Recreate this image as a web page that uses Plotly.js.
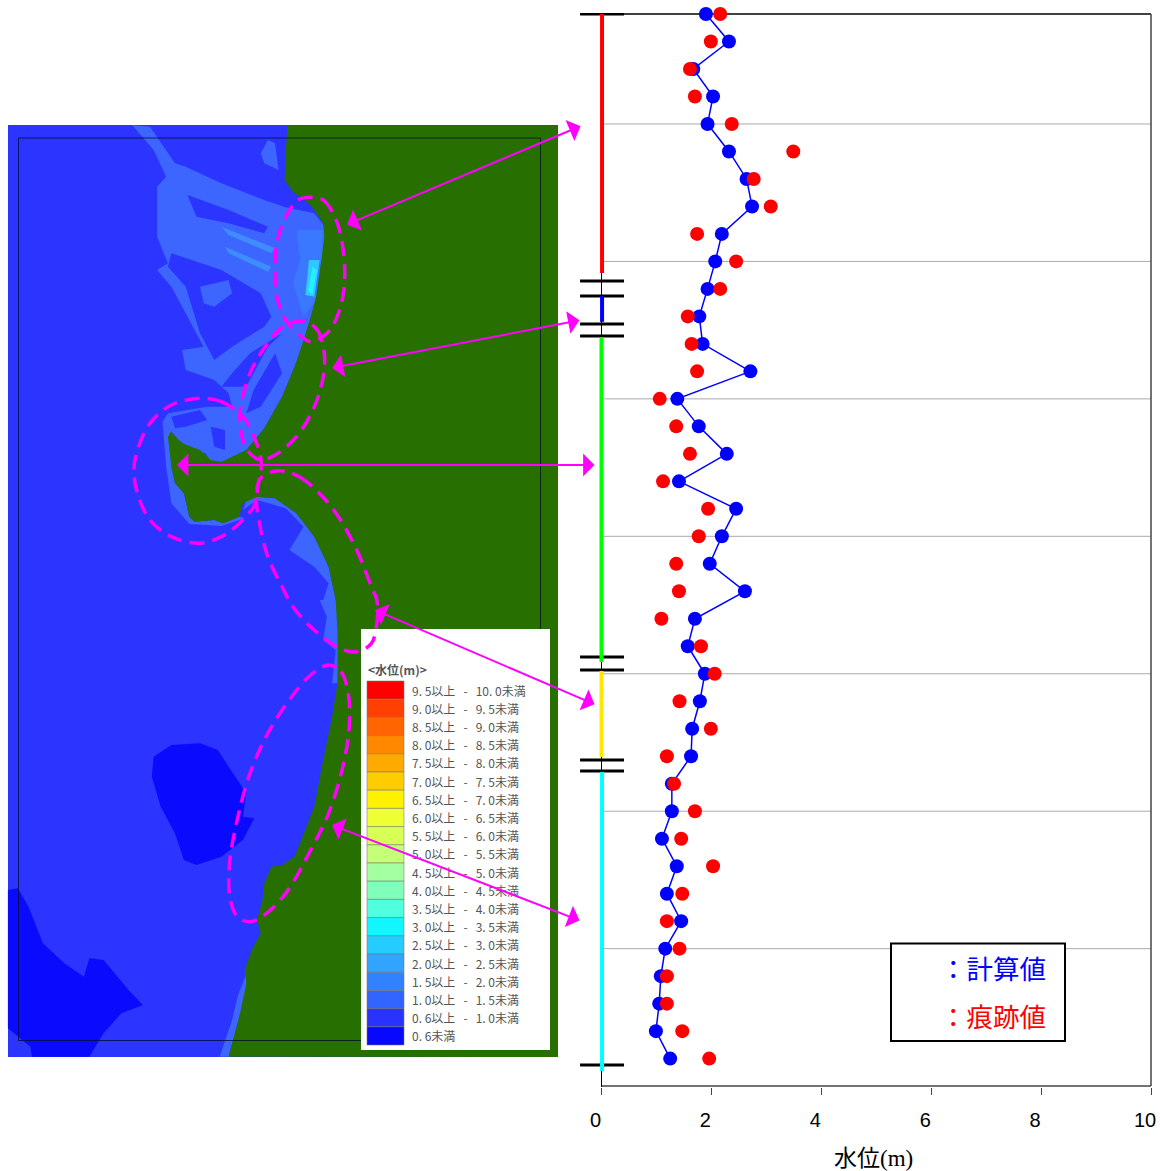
<!DOCTYPE html>
<html><head><meta charset="utf-8">
<script src="https://cdn.plot.ly/plotly-3.0.1.min.js"></script>
<style>html,body{margin:0;padding:0;background:#fff}#c{width:1160px;height:1171px}</style>
</head><body><div id="c"></div>
<script>
// ---- chart data ----
const calcValues = [1.90,2.32,1.67,2.03,1.93,2.32,2.64,2.74,2.19,2.07,1.93,1.78,1.84,2.71,1.38,1.77,2.28,1.41,2.45,2.19,1.97,2.61,1.70,1.57,1.88,1.79,1.65,1.63,1.28,1.28,1.10,1.37,1.19,1.45,1.16,1.08,1.05,0.99,1.25];
const traceValues = [2.16,1.99,1.61,1.70,2.37,3.49,2.77,3.08,1.74,2.45,2.16,1.57,1.64,1.74,1.06,1.36,1.61,1.12,1.94,1.77,1.36,1.41,1.09,1.81,2.06,1.42,1.99,1.19,1.32,1.70,1.45,2.03,1.47,1.19,1.42,1.19,1.19,1.47,1.96];
const sectionColors = ['#ff0000','#0000ff','#00ff00','#ffe600','#00ffff'];
const sectionStart = [0,10.26,11.75,23.9,27.57];
const sectionEnd = [9.42,11.2,23.57,27.03,38.45];
const sectionX = [0.01,0.01,0,0,0.01];
const breakPositions = [0,9.71,10.26,11.28,11.71,23.39,23.86,27.14,27.54,38.23];
const gridPositions = [4,9,14,19,24,29,34];
const xTicks = [0,2,4,6,8,10];
const legendLabels = ['9. 5以上 - 10. 0未満','9. 0以上 - 9. 5未満','8. 5以上 - 9. 0未満','8. 0以上 - 8. 5未満','7. 5以上 - 8. 0未満','7. 0以上 - 7. 5未満','6. 5以上 - 7. 0未満','6. 0以上 - 6. 5未満','5. 5以上 - 6. 0未満','5. 0以上 - 5. 5未満','4. 5以上 - 5. 0未満','4. 0以上 - 4. 5未満','3. 5以上 - 4. 0未満','3. 0以上 - 3. 5未満','2. 5以上 - 3. 0未満','2. 0以上 - 2. 5未満','1. 5以上 - 2. 0未満','1. 0以上 - 1. 5未満','0. 6以上 - 1. 0未満','0. 6未満'];
const legendColors = ['#ff0000','#ff4000','#ff6600','#ff8800','#ffaa00','#ffcc00','#fff200','#eeff33','#d8ff55','#c4ff77','#a4ffa0','#80ffbb','#50ffdd','#12f6ff','#25ccff','#30a4ff','#3082ff','#3264ff','#2a32ff','#0808ff'];

// ---- map geometry helpers (page pixel space) ----
const z1 = a => a.map(p => [p[0]/2.8, 120+p[1]/3]);
const z2 = a => a.map(p => [p[0]/2.8, 600+p[1]/3]);
const poly = (pts, fill, lw, lc) => ({type:'path', xref:'x2', yref:'y2', layer:'below',
  path:'M'+pts.map(p=>p[0].toFixed(1)+','+p[1].toFixed(1)).join('L')+'Z',
  fillcolor:fill, line:{width:lw||0, color:lc||fill}});
const rect = (x0,y0,x1,y1,fill,line,layer) => ({type:'rect', xref:'x2', yref:'y2', layer:layer||'below',
  x0,y0,x1,y1, fillcolor:fill, line:line||{width:0}});

const SEA='#2b35ff', L1='#3c66ff', L2='#3f8cff', DEEP='#0a0aff', LAND='#277000';
const coast = z1([[805,15],[800,100],[797,180],[820,215],[870,255],[905,310],[908,350],[900,420],[885,530],[870,590],[850,660],[825,740],[790,830],[740,925],[690,990],[620,1025],[590,1020],[560,990],[510,970],[478,935],[470,950],[480,1040],[490,1090],[515,1120],[530,1190],[545,1205],[600,1200],[625,1210],[670,1190],[680,1150],[720,1130],[770,1135],[830,1180],[880,1250],[920,1340],[940,1440]])
 .concat(z2([[945,100],[945,250],[930,350],[905,480],[880,620],[825,770],[790,795],[760,800],[740,850],[735,900],[720,960],[730,1000],[705,1050],[685,1110],[690,1150],[670,1250],[640,1370]]));
const mapShapes = [
  rect(8,125,558,1057,SEA),
  poly(z1([[370,15],[420,20],[490,130],[520,140],[620,190],[740,240],[800,262],[880,280],[910,320],[910,420],[885,550],[860,640],[825,740],[790,830],[740,925],[690,990],[620,1030],[590,1025],[575,1000],[540,990],[500,960],[480,935],[455,905],[470,880],[580,860],[650,860],[640,820],[600,780],[520,750],[510,690],[570,680],[540,620],[480,500],[440,450],[470,430],[440,350],[440,200],[465,170],[430,90]]),L1),
  poly(z1([[525,225],[640,270],[750,320],[740,340],[640,310],[550,290]]),SEA),
  poly(z1([[480,400],[620,450],[730,520],[760,590],[740,620],[650,680],[600,720],[560,640],[520,500],[470,440]]),SEA),
  poly(z1([[560,500],[640,480],[650,520],[600,560],[570,550]]),L1),
  poly(z1([[790,640],[750,680],[690,800],[620,800],[650,760],[700,700]]),SEA),
  poly(z1([[770,700],[790,760],[730,860],[690,880],[710,810]]),SEA),
  poly(z1([[480,890],[560,870],[580,900],[520,920],[490,925]]),SEA),
  poly(z1([[590,920],[630,930],[630,990],[600,980]]),SEA),
  poly(z1([[800,180],[840,250],[800,262],[760,240],[790,200]]),SEA),
  poly(z1([[750,60],[770,70],[780,150],[740,130],[730,100]]),L1),
  poly(z1([[620,320],[770,385],[760,400],[640,345]]),L2),
  poly(z1([[630,380],[760,440],[750,455],[640,400]]),L2),
  poly(z1([[830,330],[905,330],[900,420],[885,540],[850,590],[820,490],[840,420]]),'#3a78ff'),
  poly(z1([[865,420],[895,420],[880,530],[855,525]]),'#30c8ff'),
  poly(z1([[875,440],[888,450],[875,525],[862,510]]),'#22f0ff'),
  poly(z1([[455,905],[480,935],[480,1040],[490,1090],[515,1120],[530,1190],[545,1205],[600,1200],[625,1210],[670,1190],[685,1195],[620,1218],[530,1212],[480,1150],[465,1040]]),L1),
  poly(z1([[680,1170],[690,1140],[720,1130],[770,1135],[830,1180],[880,1250],[920,1340],[940,1440],[905,1440],[920,1390],[880,1340],[810,1290],[850,1220],[800,1165],[720,1140]]),L1),
  poly(z2([[895,0],[945,0],[950,150],[945,250],[930,250],[940,150],[905,120],[915,50]]),L1),
  poly(z2([[690,1120],[700,1150],[670,1250],[640,1370],[615,1370],[650,1260],[665,1190]]),L1),
  poly(z2([[430,470],[480,435],[560,430],[610,450],[640,500],[690,580],[680,650],[712,655],[680,720],[620,770],[550,795],[515,780],[490,700],[450,620],[425,530]]),DEEP),
  poly(z2([[22,870],[50,865],[80,920],[120,1030],[180,1090],[235,1130],[250,1075],[290,1080],[360,1170],[400,1215],[340,1240],[290,1300],[250,1370],[90,1370],[85,1340],[22,1285]]),DEEP),
  poly(coast.concat([[558,1057],[558,125]]),LAND),
  rect(18.5,138,540.5,1040.5,'rgba(0,0,0,0)',{width:1,color:'rgba(0,10,40,.75)'})
];

// legend panel on the map
const swX0=367, swX1=404, swY0=681, swH=18.2;
const legendShapes = [rect(361,629,550,1050,'#ffffff')].concat(legendColors.map((c,i)=>
  rect(swX0,swY0+i*swH,swX1,swY0+(i+1)*swH,c,{width:1,color:'rgba(120,120,100,.55)'})));
const spaced = t => t.replace(' - ','\u00a0\u00a0\u00a0-\u00a0\u00a0\u00a0').replace(/\. /g,'.\u00a0');
const legendNotes = [{x:366,y:669,text:'<b>&lt;水位(m)&gt;</b>'}].concat(
  legendLabels.map((t,i)=>({x:410,y:swY0+(i+.5)*swH,text:spaced(t)}))).map(n=>({
    xref:'x2',yref:'y2',x:n.x,y:n.y,text:n.text,showarrow:false,xanchor:'left',yanchor:'middle',
    font:{family:'"Noto Sans CJK JP",sans-serif',size:12,color:'#555'}}));

// dashed outlines
const outlines = [
  z1([[870,232],[905,240],[935,285],[955,350],[965,450],[960,530],[940,600],[915,640],[870,665],[845,650],[800,600],[775,530],[770,450],[775,370],[800,290],[835,240],[870,232]]),
  z1([[845,603],[885,625],[907,690],[905,770],[880,860],[830,950],[770,1005],[730,1020],[700,1000],[680,960],[672,880],[700,760],[760,655],[800,615],[845,603]]),
  z1([[560,835],[620,845],[680,890],[715,960],[732,1030],[722,1100],[715,1150],[680,1200],[620,1250],[555,1270],[480,1250],[420,1200],[385,1120],[375,1050],[385,990],[420,910],[480,855],[560,835]]),
  z1([[780,1052],[840,1072],[920,1150],[990,1270],[1040,1400]]).concat(z2([[1055,0],[1055,70],[1040,130],[1000,155],[950,145],[880,90],[820,20]])).concat(z1([[790,1400],[750,1310],[725,1200],[718,1130],[730,1075],[780,1052]])),
  z2([[920,195],[955,215],[975,280],[978,380],[960,500],[920,640],[870,750],[800,880],[740,945],[700,965],[665,950],[645,900],[642,800],[660,680],[700,520],[750,400],[810,300],[870,225],[920,195]])
];
const outlineTraces = outlines.map(o=>({type:'scatter',mode:'lines',xaxis:'x2',yaxis:'y2',x:o.map(p=>p[0]),y:o.map(p=>p[1]),
  line:{color:'#ff00ff',width:3.5,dash:'15px,8px',shape:'spline',smoothing:1},hoverinfo:'skip',cliponaxis:false}));

// double arrows
const arrows = [[347,224.5,582,125.5],[332,368,581,320],[177,465,596,465],[375,610,596,705],[332,825,581,921]].map(a=>({
  xref:'x2',yref:'y2',axref:'x2',ayref:'y2',x:a[0],y:a[1],ax:a[2],ay:a[3],text:'',showarrow:true,
  arrowside:'end+start',arrowhead:1,startarrowhead:1,arrowsize:1.9,startarrowsize:1.9,arrowwidth:2,arrowcolor:'#ff00ff',standoff:0,startstandoff:0}));

// ---- chart traces ----
const idx = calcValues.map((_,i)=>i);
const barX=[],barY=[];
breakPositions.forEach(p=>{barX.push(-0.39,0.41,null);barY.push(p,p,null);});
const traces = [
  {type:'scatter',mode:'lines',x:barX,y:barY,line:{color:'#000',width:3},hoverinfo:'skip',connectgaps:false}
].concat(sectionColors.map((c,i)=>({type:'scatter',mode:'lines',x:[sectionX[i],sectionX[i]],y:[sectionStart[i],sectionEnd[i]],
  line:{color:c,width:4},cliponaxis:false,hoverinfo:'skip'}))).concat([
  {type:'scatter',mode:'lines+markers',name:'計算値',x:calcValues,y:idx,line:{color:'#0000ff',width:1.5},marker:{color:'#0000ff',size:14},cliponaxis:false},
  {type:'scatter',mode:'markers',name:'痕跡値',x:traceValues,y:idx,marker:{color:'#ff0000',size:14},cliponaxis:false}
]).concat(outlineTraces);

const W=1160,H=1171;
// x axis starts left of zero so the section bars can reach past it
const leftPx=575, xMin=(leftPx-601.5)/54.95;
const keyNotes = [{y:967.5,text:'：計算値',color:'#0000ff'},{y:1015.5,text:'：痕跡値',color:'#ff0000'}].map(k=>({
  xref:'x2',yref:'y2',x:938,y:k.y,text:k.text,showarrow:false,xanchor:'left',yanchor:'middle',
  font:{family:'"Noto Sans CJK JP",sans-serif',size:26.5,color:k.color}}));
const axisTitle = {xref:'x2',yref:'y2',x:873,y:1158,text:'水位(m)',showarrow:false,xanchor:'center',yanchor:'middle',
  font:{size:23,color:'#000',family:'"Liberation Serif","Noto Sans CJK JP",serif'}};
const dataLine=(x0,y0,x1,y1,color,width)=>({type:'line',xref:'x',yref:'y',layer:'below',x0,y0,x1,y1,line:{color,width}});

const layout = {
  width:W,height:H,margin:{l:0,r:0,t:0,b:0},paper_bgcolor:'#fff',plot_bgcolor:'rgba(0,0,0,0)',showlegend:false,hovermode:false,
  font:{family:'"Liberation Sans",Arial,sans-serif'},
  xaxis:{domain:[leftPx/W,1152/W],range:[xMin,(1152-601.5)/54.95],anchor:'y',tickvals:xTicks,ticks:'outside',ticklen:7,tickwidth:1,tickcolor:'#444',
    showgrid:false,zeroline:true,zerolinecolor:'#000',zerolinewidth:1,showline:false,
    ticklabelshift:-6,ticklabelstandoff:8,tickfont:{size:20,color:'#000',family:'"Liberation Sans",Arial,sans-serif'}},
  yaxis:{domain:[1-1087/H,1-13/H],range:[(1087-14)/27.49,-1/27.49],anchor:'x',showticklabels:false,ticks:'',showgrid:false,zeroline:false,showline:false},
  xaxis2:{domain:[0,1],range:[0,W],anchor:'y2',visible:false,fixedrange:true},
  yaxis2:{domain:[0,1],range:[H,0],anchor:'x2',visible:false,fixedrange:true},
  shapes:mapShapes.concat(legendShapes)
   .concat(gridPositions.map(g=>dataLine(0,g,10,g,'#aaaaaa',1)))
   .concat([dataLine(0,0,10,0,'#000',1.5),dataLine(0,39,10,39,'#444',1.5),dataLine(10,0,10,39,'#444',1.5)])
   .concat([rect(891,943.5,1065,1041,'#ffffff',{width:2,color:'#000'},'above')]),
  annotations:legendNotes.concat(keyNotes).concat([axisTitle]).concat(arrows)
};
Plotly.newPlot('c',traces,layout,{displayModeBar:false,staticPlot:true});
</script></body></html>
